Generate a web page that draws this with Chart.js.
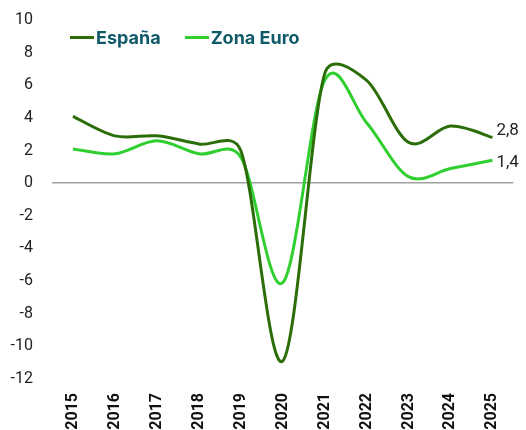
<!DOCTYPE html>
<html>
<head>
<meta charset="utf-8">
<script src="https://cdn.jsdelivr.net/npm/chart.js@4"></script>
<style>
  body { margin: 0; background: #fff; }
  #wrap { position: relative; width: 526px; height: 430px; }
  #legend { position: absolute; left: 70px; top: 27px; font-family: Inter, Roboto, sans-serif; font-weight: 700; font-size: 18px; color: #0e5a68; display: flex; align-items: center; }
  .item { display: flex; align-items: center; margin-right: 24px; }
  .swatch { width: 24px; height: 3px; margin-right: 2px; }
</style>
</head>
<body>
<div id="wrap">
  <canvas id="myChart"></canvas>
  <div id="legend"></div>
</div>
<script>
const years = ["2015", "2016", "2017", "2018", "2019", "2020", "2021", "2022", "2023", "2024", "2025"];
const espana = [4.1, 2.9, 2.9, 2.4, 2.0, -10.9, 6.7, 6.3, 2.5, 3.5, 2.8];
const zonaEuro = [2.1, 1.8, 2.6, 1.8, 1.6, -6.1, 6.3, 3.7, 0.4, 0.9, 1.4];
const seriesNames = ["España", "Zona Euro"];
const colors = ["#2b6d08", "#2fcf2f"];

// Excel style smoothing: control points from neighbours, limited to half the segment
const excelSmooth = {
  id: "excelSmooth",
  beforeDatasetsDraw(chart) {
    chart.data.datasets.forEach((ds, i) => {
      const meta = chart.getDatasetMeta(i);
      const line = meta.dataset;
      line.updateControlPoints(chart.chartArea, "x");
      const pts = meta.data;
      const n = pts.length;
      const dist = (a, b) => Math.hypot(b.x - a.x, b.y - a.y);
      for (let k = 0; k < n - 1; k++) {
        const p0 = pts[k - 1] || pts[k];
        const p1 = pts[k];
        const p2 = pts[k + 1];
        const p3 = pts[k + 2] || pts[k + 1];
        const d12 = dist(p1, p2);
        const d02 = dist(p0, p2);
        const d13 = dist(p1, p3);
        let f1 = 1 / 6, f2 = 1 / 6;
        if (d02 / 6 > d12 / 2) f1 = d12 / (2 * d02);
        if (d13 / 6 > d12 / 2) f2 = d12 / (2 * d13);
        p1.cp2x = p1.x + (p2.x - p0.x) * f1;
        p1.cp2y = p1.y + (p2.y - p0.y) * f1;
        p2.cp1x = p2.x - (p3.x - p1.x) * f2;
        p2.cp1y = p2.y - (p3.y - p1.y) * f2;
      }
      line._path = undefined;
    });
  }
};

const lastLabels = {
  id: "lastLabels",
  afterDatasetsDraw(chart) {
    const ctx = chart.ctx;
    const offsets = [-7, 2];
    ctx.save();
    ctx.font = "17px Roboto";
    ctx.fillStyle = "#222";
    ctx.textBaseline = "middle";
    chart.data.datasets.forEach((ds, i) => {
      const meta = chart.getDatasetMeta(i);
      const p = meta.data[meta.data.length - 1];
      const v = ds.data[ds.data.length - 1];
      ctx.fillText(v.toFixed(1).replace(".", ","), p.x + 4, p.y + offsets[i]);
    });
    ctx.restore();
  }
};

const legend = document.getElementById("legend");
seriesNames.forEach((name, i) => {
  const item = document.createElement("div");
  item.className = "item";
  const sw = document.createElement("span");
  sw.className = "swatch";
  sw.style.background = colors[i];
  const txt = document.createElement("span");
  txt.textContent = name;
  item.appendChild(sw);
  item.appendChild(txt);
  legend.appendChild(item);
});

var ctx = document.getElementById("myChart").getContext("2d");
var chart = new Chart(ctx, {
  type: "line",
  data: {
    labels: years,
    datasets: [
      { label: seriesNames[0], data: espana, borderColor: colors[0], backgroundColor: colors[0] },
      { label: seriesNames[1], data: zonaEuro, borderColor: colors[1], backgroundColor: colors[1] },
    ],
  },
  options: {
    responsive: true,
    maintainAspectRatio: false,
    animation: false,
    layout: { padding: { top: 20, right: 8, left: 0, bottom: 0 } },
    elements: {
      line: { borderWidth: 3, tension: 0.4, capBezierPoints: false },
      point: { radius: 0, hoverRadius: 0 },
    },
    plugins: { legend: { display: false }, tooltip: { enabled: false } },
    scales: {
      x: {
        offset: true,
        grid: { display: false, drawTicks: false },
        border: { display: false },
        ticks: { minRotation: 90, maxRotation: 90, padding: 14, color: "#111", font: { family: "Roboto", size: 16, weight: "bold" } },
        afterFit: (s) => { s.height = 51; },
      },
      y: {
        min: -12,
        max: 10,
        grid: { drawTicks: false, color: (c) => (c.tick && c.tick.value === 0 ? "#a0a0a0" : "rgba(0,0,0,0)"), lineWidth: 1.5 },
        border: { display: false },
        ticks: { stepSize: 2, padding: 19, color: "#222", font: { family: "Roboto", size: 16 } },
        afterFit: (s) => { s.width = 52; s.paddingTop = 0; s.paddingBottom = 0; },
      },
    },
  },
  plugins: [excelSmooth, lastLabels],
});
</script>
</body>
</html>
